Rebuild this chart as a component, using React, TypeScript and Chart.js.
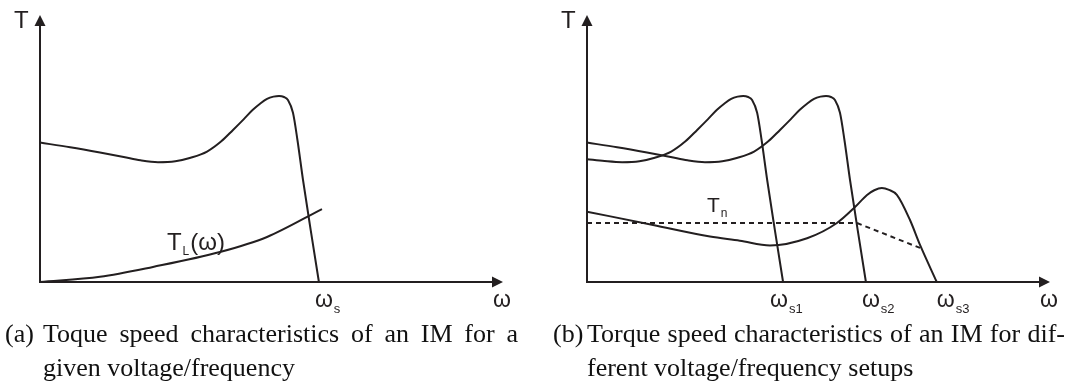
import { useEffect, useRef } from "react";
import { Chart, registerables } from "chart.js";

Chart.register(...registerables);

const INK = "#231f20";
const SANS = '"Liberation Sans", Arial, Helvetica, sans-serif';
const SERIF = '"Liberation Serif", "Times New Roman", Times, serif';

// Axis extents (speed ω in % of ωs, torque T in % of breakdown torque)
const OMEGA_MAX = 166;
const TORQUE_MAX = 144;

// (a) motor torque at one voltage/frequency
const speedA = [0, 10.8, 21.5, 30, 36, 42.3, 48.5, 54, 59.9, 65, 69.2, 73, 76.3, 79, 81.4, 83.7, 85.7, 87.5, 88.9, 90.7, 92.3, 94.3, 97.1, 100];
const torqueA = [74.9, 72.4, 69.6, 67.2, 65.4, 64.4, 64.9, 66.8, 70.1, 75.6, 81.7, 87.4, 92.5, 95.9, 98.4, 99.6, 100, 99.4, 97.8, 90.9, 76.3, 54.8, 27.5, 0];

// (a) load torque T_L(ω)
const loadSpeed = [0, 21.5, 40.5, 64.5, 81.4, 101.1];
const loadTorque = [0, 2.8, 8.1, 16.1, 24.2, 39.2];

// (b) three supply setups: ωs1 < ωs2 < ωs3
const speedS1 = [0, 6.3, 12.6, 18.8, 24.3, 30.2, 35.3, 39.5, 43.3, 46.6, 49.3, 51.7, 54.0, 56.0, 57.8, 59.2, 61.0, 62.6, 64.6, 67.4, 70.3];
const torqueS1 = [66.0, 65.0, 64.4, 64.9, 66.8, 70.1, 75.6, 81.7, 87.4, 92.5, 95.9, 98.4, 99.6, 100, 99.4, 97.8, 90.9, 76.3, 54.8, 27.5, 0];

const speedS2 = [0, 10.8, 21.5, 30, 36, 42.3, 48.5, 54, 59.9, 65, 69.2, 73, 76.3, 79, 81.4, 83.7, 85.7, 87.5, 88.9, 90.7, 92.3, 94.3, 97.1, 100];
const torqueS2 = [74.9, 72.4, 69.6, 67.2, 65.4, 64.4, 64.9, 66.8, 70.1, 75.6, 81.7, 87.4, 92.5, 95.9, 98.4, 99.6, 100, 99.4, 97.8, 90.9, 76.3, 54.8, 27.5, 0];

const speedS3 = [0, 23.7, 44.1, 54.8, 65.6, 78.9, 89.6, 96.1, 100.4, 103.0, 105.7, 108.3, 111.1, 115.8, 119.4, 125.4];
const torqueS3 = [37.8, 30.6, 24.4, 22.2, 19.6, 23.5, 31.7, 40.3, 46.8, 49.3, 50.5, 49.5, 46.8, 33.3, 19.9, 0];

// (b) nominal torque limit T_n (dashed)
const tnSpeed = [0, 96.8, 119.4];
const tnTorque = [31.7, 31.7, 18.3];

// Where the in-plot labels sit, in axis units
const TL_LABEL_AT = [45.5, 17.2];
const TN_LABEL_AT = [43.0, 37.6];

const pts = (xs: number[], ys: number[]) => xs.map((x, i) => ({ x, y: ys[i] }));

function curve(xs: number[], ys: number[], dashed = false) {
  return {
    data: pts(xs, ys),
    borderColor: INK,
    borderWidth: 2,
    borderDash: dashed ? [5, 4] : [],
    pointRadius: 0,
    fill: false,
    clip: false as any,
    tension: 0,
    cubicInterpolationMode: dashed ? ("default" as const) : ("monotone" as const),
  };
}

function drawLabel(
  ctx: CanvasRenderingContext2D,
  x: number,
  y: number,
  main: string,
  size: number,
  sub?: string,
  subSize = 13,
  subDrop = 6,
  tail?: string
) {
  ctx.save();
  ctx.fillStyle = INK;
  ctx.textAlign = "left";
  ctx.textBaseline = "alphabetic";
  ctx.font = `${size}px ${SANS}`;
  ctx.fillText(main, x, y);
  let cx = x + ctx.measureText(main).width;
  if (sub) {
    ctx.font = `${subSize}px ${SANS}`;
    ctx.fillText(sub, cx + 1, y + subDrop);
    cx += 1 + ctx.measureText(sub).width;
  }
  if (tail) {
    ctx.font = `${size}px ${SANS}`;
    ctx.fillText(tail, cx + 1, y);
  }
  ctx.restore();
}

function drawAxes(chart: any) {
  const { left, right, top, bottom } = chart.chartArea;
  const ctx: CanvasRenderingContext2D = chart.ctx;
  ctx.save();
  ctx.strokeStyle = INK;
  ctx.fillStyle = INK;
  ctx.lineWidth = 2;
  ctx.beginPath();
  ctx.moveTo(left, top + 10);
  ctx.lineTo(left, bottom);
  ctx.lineTo(right - 8, bottom);
  ctx.stroke();
  // arrow heads
  ctx.beginPath();
  ctx.moveTo(left, top + 1);
  ctx.lineTo(left - 5.5, top + 12);
  ctx.lineTo(left + 5.5, top + 12);
  ctx.closePath();
  ctx.fill();
  ctx.beginPath();
  ctx.moveTo(right, bottom);
  ctx.lineTo(right - 11, bottom - 5.5);
  ctx.lineTo(right - 11, bottom + 5.5);
  ctx.closePath();
  ctx.fill();
  ctx.restore();
}

type Mark = { at: number; text: string; sub: string; dx: number };

function figurePlugin(id: string, marks: Mark[], extra?: (chart: any) => void) {
  return {
    id,
    beforeDatasetsDraw(chart: any) {
      drawAxes(chart);
    },
    afterDraw(chart: any) {
      const { left, right, top, bottom } = chart.chartArea;
      const ctx = chart.ctx;
      const xs = chart.scales.x;
      drawLabel(ctx, left - 26, top + 14, "T", 24);
      drawLabel(ctx, right - 10, bottom + 25, "ω", 23);
      marks.forEach((m) => {
        drawLabel(ctx, xs.getPixelForValue(m.at) + m.dx, bottom + 25, m.text, 23, m.sub, 13, 6);
      });
      if (extra) extra(chart);
    },
  };
}

function makeChart(canvas: HTMLCanvasElement, datasets: any[], padRight: number, plugin: any) {
  return new Chart(canvas, {
    type: "line",
    data: { datasets },
    options: {
      responsive: false,
      animation: false,
      events: [],
      layout: { padding: { left: 40, top: 14, right: padRight, bottom: 38 } },
      scales: {
        x: { type: "linear", min: 0, max: OMEGA_MAX, display: false },
        y: { type: "linear", min: 0, max: TORQUE_MAX, display: false },
      },
      plugins: { legend: { display: false }, tooltip: { enabled: false } },
    },
    plugins: [plugin],
  } as any);
}

export default function App() {
  const refA = useRef<HTMLCanvasElement | null>(null);
  const refB = useRef<HTMLCanvasElement | null>(null);

  useEffect(() => {
    if (!refA.current || !refB.current) return;

    const chartA = makeChart(
      refA.current,
      [curve(speedA, torqueA), curve(loadSpeed, loadTorque)],
      27,
      figurePlugin(
        "figureA",
        [{ at: speedA[speedA.length - 1], text: "ω", sub: "s", dx: -4 }],
        (chart) => {
          const x = chart.scales.x.getPixelForValue(TL_LABEL_AT[0]);
          const y = chart.scales.y.getPixelForValue(TL_LABEL_AT[1]);
          drawLabel(chart.ctx, x, y, "T", 24, "L", 12, 5, "(ω)");
        }
      )
    );

    const chartB = makeChart(
      refB.current,
      [
        curve(speedS1, torqueS1),
        curve(speedS2, torqueS2),
        curve(speedS3, torqueS3),
        curve(tnSpeed, tnTorque, true),
      ],
      23,
      figurePlugin(
        "figureB",
        [
          { at: speedS1[speedS1.length - 1], text: "ω", sub: "s1", dx: -13 },
          { at: speedS2[speedS2.length - 1], text: "ω", sub: "s2", dx: -4 },
          { at: speedS3[speedS3.length - 1], text: "ω", sub: "s3", dx: 0 },
        ],
        (chart) => {
          const x = chart.scales.x.getPixelForValue(TN_LABEL_AT[0]);
          const y = chart.scales.y.getPixelForValue(TN_LABEL_AT[1]);
          drawLabel(chart.ctx, x, y, "T", 21, "n", 12, 5);
        }
      )
    );

    return () => {
      chartA.destroy();
      chartB.destroy();
    };
  }, []);

  const capLine: React.CSSProperties = {
    position: "absolute",
    fontFamily: SERIF,
    fontSize: 26,
    lineHeight: "34px",
    color: "#111",
    whiteSpace: "nowrap",
  };
  const justified: React.CSSProperties = {
    ...capLine,
    whiteSpace: "normal",
    textAlign: "justify",
    textAlignLast: "justify" as any,
  };

  return (
    <div style={{ position: "absolute", left: 0, top: 0, width: 1073, height: 387, background: "#fff", overflow: "hidden" }}>
      <canvas ref={refA} width={530} height={320} style={{ position: "absolute", left: 0, top: 0 }} />
      <canvas ref={refB} width={526} height={320} style={{ position: "absolute", left: 547, top: 0 }} />

      <div style={{ ...capLine, left: 5, top: 317 }}>(a)</div>
      <div style={{ ...justified, left: 43, top: 317, width: 475 }}>Toque speed characteristics of an IM for a</div>
      <div style={{ ...capLine, left: 43, top: 351 }}>given voltage/frequency</div>

      <div style={{ ...capLine, left: 553, top: 317 }}>(b)</div>
      <div style={{ ...justified, left: 587, top: 317, width: 478 }}>Torque speed characteristics of an IM for dif-</div>
      <div style={{ ...capLine, left: 587, top: 351 }}>ferent voltage/frequency setups</div>
    </div>
  );
}
